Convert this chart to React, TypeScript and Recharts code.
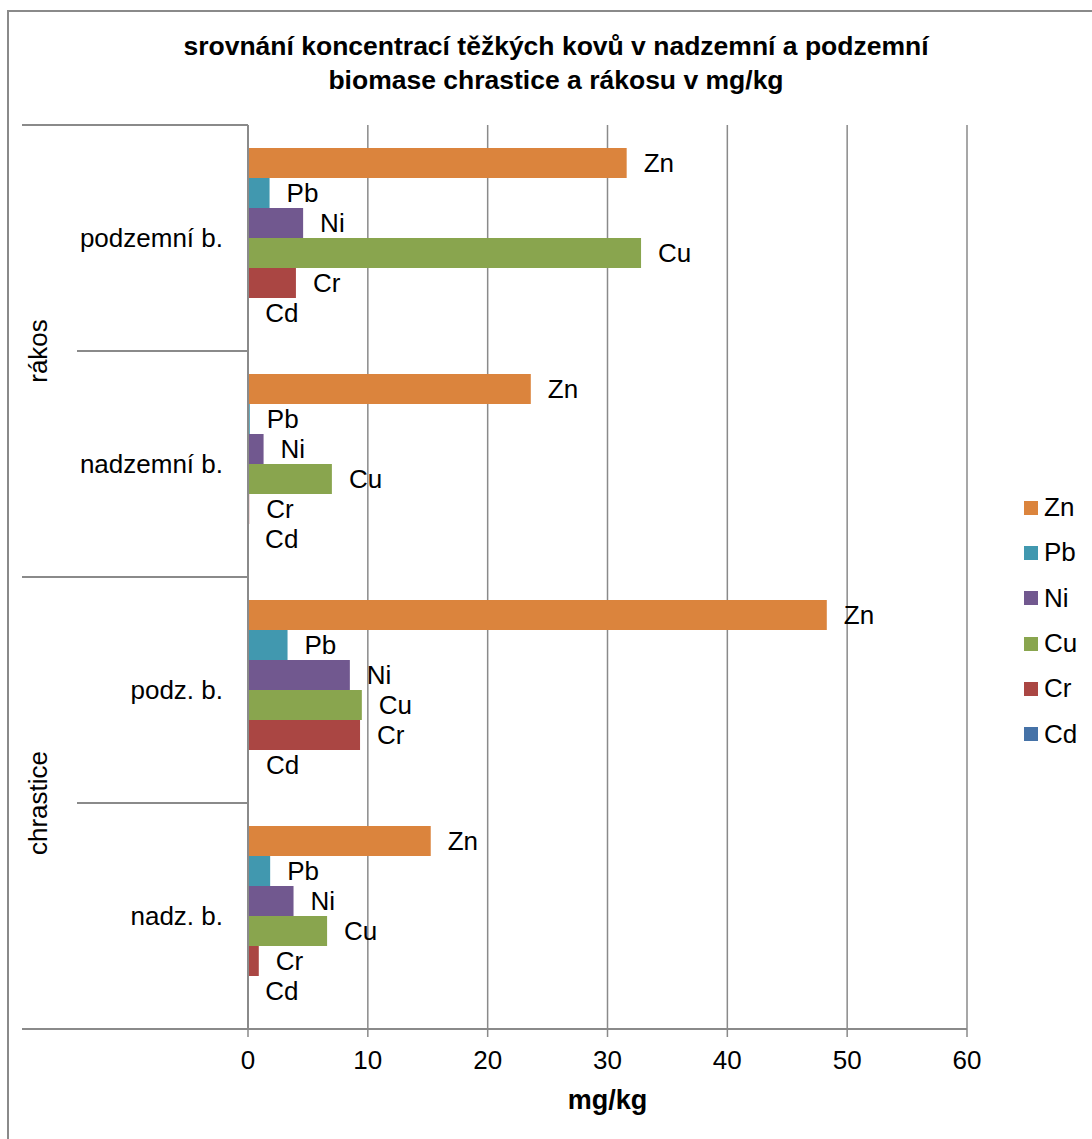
import React from 'react';
import { BarChart, Bar, XAxis, YAxis, CartesianGrid, Legend, LabelList, Label } from 'recharts';

// skupiny a části rostliny (shora dolů)
const groups = ['rákos', 'rákos', 'chrastice', 'chrastice'];
const parts = ['podzemní b.', 'nadzemní b.', 'podz. b.', 'nadz. b.'];

// koncentrace kovů v mg/kg
const metals = ['Zn', 'Pb', 'Ni', 'Cu', 'Cr', 'Cd'];
const zn = [31.6, 23.6, 48.3, 15.25];
const pb = [1.8, 0.15, 3.3, 1.85];
const ni = [4.6, 1.3, 8.5, 3.8];
const cu = [32.8, 7.0, 9.5, 6.6];
const cr = [4.0, 0.1, 9.35, 0.9];
const cd = [0.02, 0.01, 0.08, 0.02];

const xTicks = [0, 10, 20, 30, 40, 50, 60];

const colors: Record<string, string> = {
  Zn: '#DB843D',
  Pb: '#4198AF',
  Ni: '#71588F',
  Cu: '#89A54E',
  Cr: '#AA4643',
  Cd: '#4572A7',
};

const data = parts.map((part, i) => ({
  part,
  group: groups[i],
  Zn: zn[i],
  Pb: pb[i],
  Ni: ni[i],
  Cu: cu[i],
  Cr: cr[i],
  Cd: cd[i],
}));

const FONT = '"Liberation Sans", Arial, sans-serif';
const GRID = '#8a8a8a';
const W = 1084;
const H = 1131;
const M_TOP = 117;
const M_RIGHT = 125;
const AXIS_W = 240;
const X_AXIS_H = 110;
const BAND = (H - M_TOP - X_AXIS_H) / parts.length;

// popisky kategorií ve dvou úrovních + dělicí čáry
const CategoryTick = (props: any) => {
  const { y, payload, index } = props;
  const half = payload && payload.offset ? payload.offset : BAND / 2;
  const top = y - half;
  const bottom = y + half;
  const g = groups[index];
  const firstInGroup = index === 0 || groups[index - 1] !== g;
  const lastInGroup = index === groups.length - 1 || groups[index + 1] !== g;
  const count = groups.filter((v) => v === g).length;
  const groupMid = top + count * half;
  return (
    <g>
      {index === 0 && (
        <line x1={14} x2={AXIS_W} y1={top} y2={top} stroke={GRID} strokeWidth={2} />
      )}
      <line
        x1={lastInGroup ? 14 : 69}
        x2={AXIS_W}
        y1={bottom}
        y2={bottom}
        stroke={GRID}
        strokeWidth={2}
      />
      <text
        x={215}
        y={y}
        textAnchor="end"
        dominantBaseline="central"
        fontSize={26}
        fontFamily={FONT}
        fill="#000"
      >
        {payload.value}
      </text>
      {firstInGroup && (
        <text
          x={30}
          y={groupMid}
          transform={`rotate(-90, 30, ${groupMid})`}
          textAnchor="middle"
          dominantBaseline="central"
          fontSize={26}
          fontFamily={FONT}
          fill="#000"
        >
          {g}
        </text>
      )}
    </g>
  );
};

const LegendBox = () => (
  <div style={{ fontFamily: FONT, fontSize: 26, color: '#000', whiteSpace: 'nowrap', width: 80 }}>
    {metals.map((m) => (
      <div key={m} style={{ height: 45.3, display: 'flex', alignItems: 'center' }}>
        <span
          style={{
            display: 'block',
            flex: '0 0 14px',
            width: 14,
            minWidth: 14,
            height: 14,
            background: colors[m],
            marginRight: 6,
          }}
        />
        <span>{m}</span>
      </div>
    ))}
  </div>
);

export default function App() {
  return (
    <div
      style={{
        position: 'fixed',
        left: 0,
        top: 0,
        width: 1092,
        height: 1139,
        overflow: 'hidden',
        background: '#fff',
      }}
    >
      <div
        style={{
          position: 'absolute',
          left: 7,
          top: 10,
          width: 2000,
          height: 2000,
          borderLeft: `2px solid ${GRID}`,
          borderTop: `2px solid ${GRID}`,
        }}
      />
      <div
        style={{
          position: 'absolute',
          left: 56,
          top: 30,
          width: 1000,
          textAlign: 'center',
          fontFamily: FONT,
          fontWeight: 'bold',
          fontSize: 26.5,
          lineHeight: '33.6px',
          color: '#000',
        }}
      >
        srovnání koncentrací těžkých kovů v nadzemní a podzemní
        <br />
        biomase chrastice a rákosu v mg/kg
      </div>
      <div style={{ position: 'absolute', left: 8, top: 8 }}>
        <BarChart
          width={W}
          height={H}
          data={data}
          layout="vertical"
          margin={{ top: M_TOP, right: M_RIGHT, bottom: 0, left: 0 }}
          barCategoryGap={23}
          barGap={0}
        >
          <CartesianGrid horizontal={false} stroke={GRID} strokeWidth={1.5} />
          <XAxis
            type="number"
            domain={[0, 60]}
            ticks={xTicks}
            height={X_AXIS_H}
            tickSize={8}
            tickMargin={14}
            axisLine={{ stroke: GRID, strokeWidth: 2 }}
            tickLine={{ stroke: GRID, strokeWidth: 1.5 }}
            tick={{ fill: '#000', fontSize: 26, fontFamily: FONT }}
          >
            <Label
              value="mg/kg"
              position="insideBottom"
              offset={30}
              style={{ fill: '#000', fontSize: 27, fontWeight: 'bold', fontFamily: FONT }}
            />
          </XAxis>
          <YAxis
            type="category"
            dataKey="part"
            width={AXIS_W}
            tickLine={false}
            axisLine={{ stroke: GRID, strokeWidth: 2 }}
            tick={<CategoryTick />}
            interval={0}
          />
          <Legend
            layout="vertical"
            align="right"
            verticalAlign="middle"
            content={() => <LegendBox />}
            wrapperStyle={{ position: 'absolute', left: 1016, top: 477, width: 0, height: 0 }}
          />
          {metals.map((m) => (
            <Bar key={m} dataKey={m} fill={colors[m]} isAnimationActive={false}>
              <LabelList
                dataKey={m}
                position="right"
                offset={17}
                formatter={() => m}
                style={{ fill: '#000', fontSize: 26, fontFamily: FONT }}
              />
            </Bar>
          ))}
        </BarChart>
      </div>
    </div>
  );
}
